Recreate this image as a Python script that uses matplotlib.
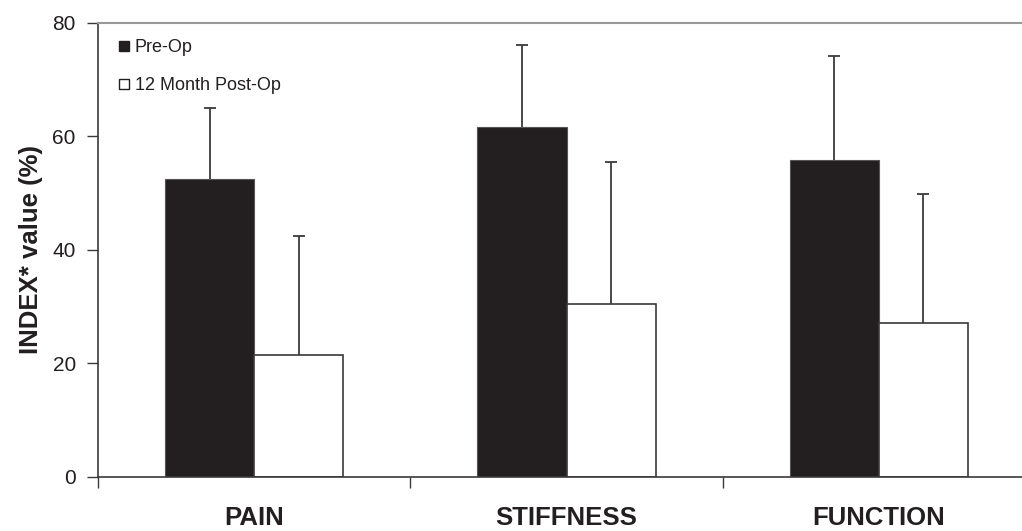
import matplotlib
matplotlib.use("Agg")
import matplotlib.pyplot as plt
from matplotlib.lines import Line2D
import numpy as np

categories = ["PAIN", "STIFFNESS", "FUNCTION"]
pre_op = [52.5, 61.6, 55.8]
pre_op_err = [12.5, 14.5, 18.3]
post_op = [21.4, 30.4, 27.1]
post_op_err = [21.0, 25.0, 22.8]
series_names = ["Pre-Op", "12 Month Post-Op"]
yticks = [0, 20, 40, 60, 80]

plt.rcParams['font.family'] = ['Liberation Sans', 'DejaVu Sans']
txt = '#231f20'
edge = '#3a3a3a'

fig = plt.figure(figsize=(10.22, 5.31), dpi=100)
ax = fig.add_axes([98/1022, 54.5/531, 937/1022, 453.5/531])

x = np.arange(len(categories))
w = 0.285
ax.bar(x - w/2, pre_op, w, color='#231f20', edgecolor='#555555', linewidth=0.8, zorder=2)
ax.bar(x + w/2, post_op, w, color='white', edgecolor=edge, linewidth=1.2, zorder=2)
for xs, vals, errs in [(x - w/2, pre_op, pre_op_err), (x + w/2, post_op, post_op_err)]:
    _, caps, _ = ax.errorbar(xs, vals, yerr=[np.zeros(len(vals)), errs], fmt='none',
                             ecolor=edge, elinewidth=1.3, capsize=4, capthick=1.3, zorder=1)
    caps[0].set_visible(False)

ax.set_xlim(-0.5, 2.5)
ax.set_ylim(0, 80)
ax.set_yticks(yticks)
ax.tick_params(axis='y', direction='out', length=8, width=1.0, color=edge, labelsize=15,
               labelcolor=txt, pad=8)
ax.set_xticks([-0.5, 0.5, 1.5, 2.5])
ax.set_xticklabels([])
ax.tick_params(axis='x', which='major', direction='out', length=8, width=1.0, color=edge)
ax.set_xticks(x, minor=True)
ax.set_xticklabels(categories, minor=True, fontsize=18.5, fontweight='bold', color=txt)
ax.tick_params(axis='x', which='minor', length=0, pad=21)

ax.spines['left'].set_color(edge)
ax.spines['bottom'].set_color(edge)
ax.spines['left'].set_linewidth(1.2)
ax.spines['bottom'].set_linewidth(1.2)
ax.spines['top'].set_color('#999999')
ax.spines['top'].set_linewidth(1.5)
ax.spines['right'].set_visible(False)

ax.set_ylabel("INDEX* value (%)", fontsize=18.5, fontweight='bold', color=txt)
ax.yaxis.set_label_coords(-55/937, 0.5)

handles = [Line2D([], [], linestyle='none', marker='s', markersize=7.5,
                  markerfacecolor='#231f20', markeredgecolor=txt, markeredgewidth=1),
           Line2D([], [], linestyle='none', marker='s', markersize=7.5,
                  markerfacecolor='white', markeredgecolor=txt, markeredgewidth=1)]
leg = ax.legend(handles, series_names, loc='upper left', bbox_to_anchor=(0.014, 0.98),
                frameon=False, fontsize=13, handlelength=0.6, handletextpad=0.3,
                labelspacing=1.15, borderaxespad=0)
for t in leg.get_texts():
    t.set_color(txt)

fig.savefig("out.png", dpi=100)
